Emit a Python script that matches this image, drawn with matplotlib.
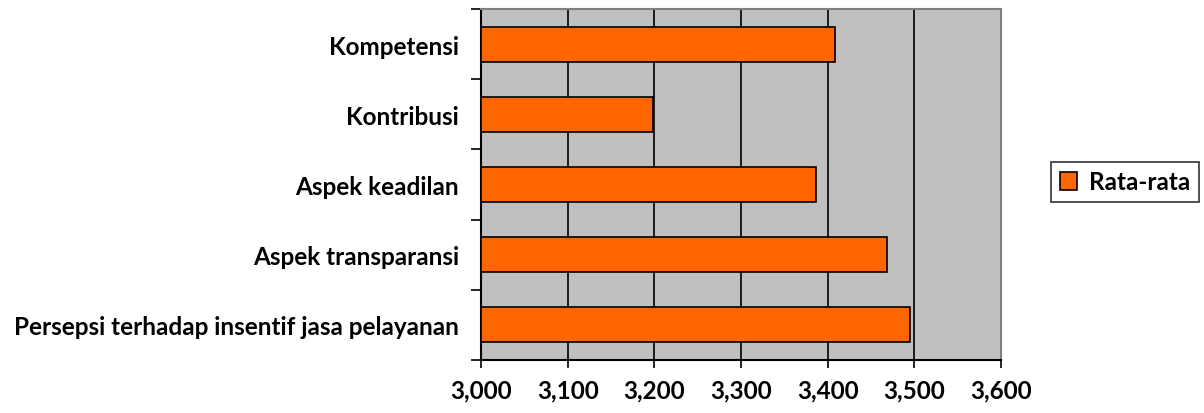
import numpy as np
import matplotlib
matplotlib.use("Agg")
import matplotlib.pyplot as plt
from matplotlib.ticker import FuncFormatter, FixedLocator

# data (bottom to top, as drawn)
categories = ["Persepsi terhadap insentif jasa pelayanan", "Aspek transparansi",
              "Aspek keadilan", "Kontribusi", "Kompetensi"]
rata_rata = [3.495, 3.468, 3.386, 3.199, 3.409]
x_ticks = [3.0, 3.1, 3.2, 3.3, 3.4, 3.5, 3.6]

plt.rcParams['font.family'] = ['Lato', 'DejaVu Sans']
plt.rcParams['font.weight'] = 'bold'
FS = 17.5

fig = plt.figure(figsize=(12.04, 4.14), dpi=100)
ax = fig.add_axes([481/1204, 53/414, 520/1204, 351/414])
ax.set_facecolor("#C0C0C0")

y = np.arange(len(categories))
ax.barh(y, np.array(rata_rata) - 3.0, left=3.0, height=0.5, color="#FF6600",
        edgecolor="black", linewidth=1.2, label="Rata-rata", zorder=3)

ax.set_xlim(3.0, 3.6)
ax.set_ylim(-0.5, len(categories) - 0.5)
ax.set_xticks(x_ticks)
ax.xaxis.set_major_formatter(FuncFormatter(lambda v, p: f"{v:.3f}".replace(".", ",")))
ax.grid(axis="x", color="black", linewidth=1.2, zorder=1)

ax.set_yticks(y)
ax.set_yticklabels(categories)
ax.yaxis.set_minor_locator(FixedLocator(np.arange(-0.5, len(categories), 1.0)))
ax.tick_params(axis="y", which="major", length=0, pad=16, labelsize=FS)
ax.tick_params(axis="y", which="minor", length=7, width=1.2, direction="out")
ax.tick_params(axis="x", length=6, width=1.2, direction="out", pad=7, labelsize=FS)

for s in ["top", "right"]:
    ax.spines[s].set_color("#808080")
    ax.spines[s].set_linewidth(1.5)
for s in ["left", "bottom"]:
    ax.spines[s].set_color("black")
    ax.spines[s].set_linewidth(1.5)

leg = fig.legend(loc="center", bbox_to_anchor=(1125/1204, 1 - 183/414), frameon=True,
                 fancybox=False, edgecolor="black", fontsize=FS, handlelength=0.7,
                 handleheight=0.7, handletextpad=0.5, borderpad=0.35)
leg.get_frame().set_linewidth(1.2)

fig.savefig("out.png", dpi=100)
